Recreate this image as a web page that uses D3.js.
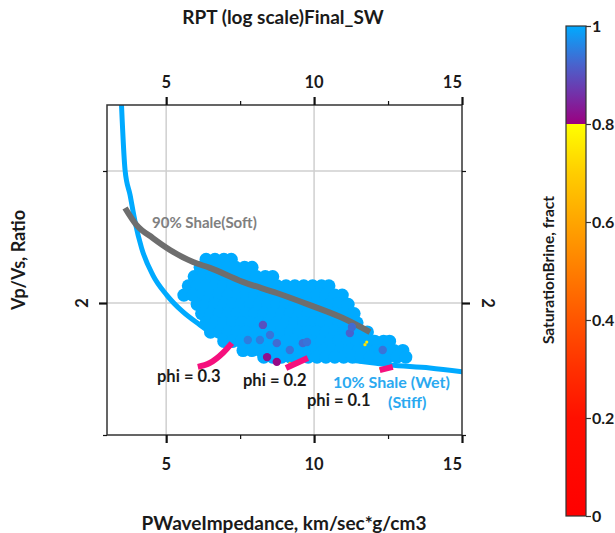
<!DOCTYPE html>
<html>
<head>
<meta charset="utf-8">
<script src="https://cdn.jsdelivr.net/npm/d3@7"></script>
<style>
  body { margin: 0; background: #fff; }
  text { font-family: Lato, "Open Sans", sans-serif; font-weight: bold; }
</style>
</head>
<body>
<svg id="chart" width="615" height="533"></svg>
<script>
// ---- axis ticks ----
const xMajorTicks = [5, 10, 15];
const xMinorTicks = [7.5, 12.5];
const yMajorTicks = [2];
const yMinorTicks = [1.5, 2.5];
const colorbarTicks = [0, 0.2, 0.4, 0.6, 0.8, 1];

// ---- template curves (PWaveImpedance, Vp/Vs) ----
const stiffIp   = [3.49, 3.61, 3.78, 3.95, 4.17, 4.55, 5.02, 5.57, 6.14, 6.48, 7.05, 7.39, 8.51, 9.86, 11.21, 12.56, 13.91, 15.03];
const stiffVpVs = [2.75, 2.504, 2.409, 2.307, 2.208, 2.106, 2.030, 1.966, 1.917, 1.890, 1.862, 1.845, 1.814, 1.795, 1.784, 1.765, 1.754, 1.739];

const softIp   = [3.61, 4.00, 4.55, 5.13, 5.91, 6.48, 7.59, 8.74, 9.86, 10.97, 11.89];
const softVpVs = [2.360, 2.295, 2.246, 2.201, 2.155, 2.133, 2.080, 2.038, 1.992, 1.943, 1.890];

const phi03Ip = [6.07, 6.48, 6.92, 7.22];
const phi03VpVs = [1.758, 1.773, 1.811, 1.848];
const phi02Ip = [9.05, 9.42, 9.79];
const phi02VpVs = [1.754, 1.773, 1.792];
const phi01Ip = [12.22, 12.66];
const phi01VpVs = [1.746, 1.758];

// ---- brine-saturated well samples, listed row by row of Vp/Vs ----
const wetRowVpVs = [2.165, 2.135, 2.1, 2.065, 2.03, 1.995, 1.96, 1.925, 1.89, 1.855, 1.82, 1.795];
const wetRowIp = [
  [6.35, 6.65, 6.95, 7.2],
  [6.15, 6.45, 6.75, 7.05, 7.35, 7.65, 7.9],
  [5.95, 6.25, 6.55, 6.85, 7.15, 7.45, 7.75, 8.05, 8.35, 8.6],
  [5.75, 6.05, 6.35, 6.65, 6.95, 7.25, 7.55, 7.85, 8.15, 8.45, 8.75, 9.05, 9.35, 9.65, 9.95, 10.25, 10.5],
  [5.6, 5.9, 6.2, 6.5, 6.8, 7.1, 7.4, 7.7, 8.0, 8.3, 8.6, 8.9, 9.2, 9.5, 9.8, 10.1, 10.4, 10.7, 10.95],
  [6.05, 6.35, 6.65, 6.95, 7.25, 7.55, 7.85, 8.15, 8.45, 8.75, 9.05, 9.35, 9.65, 9.95, 10.25, 10.55, 10.85, 11.15],
  [6.2, 6.5, 6.8, 7.1, 7.4, 7.7, 8.0, 8.3, 8.6, 8.9, 9.2, 9.5, 9.8, 10.1, 10.4, 10.7, 11.0, 11.35],
  [6.35, 6.65, 6.95, 7.25, 7.55, 7.85, 8.15, 8.45, 8.75, 9.05, 9.35, 9.65, 9.95, 10.25, 10.55, 10.85, 11.15, 11.45],
  [6.5, 6.8, 7.1, 7.4, 7.7, 8.0, 8.3, 8.6, 8.9, 9.2, 9.5, 9.8, 10.1, 10.4, 10.7, 11.0, 11.3, 11.6, 11.8],
  [6.95, 7.25, 7.55, 7.85, 8.15, 8.45, 8.75, 9.05, 9.35, 9.65, 9.95, 10.25, 10.55, 10.85, 11.15, 11.45, 11.75, 12.05, 12.35, 12.55],
  [7.6, 7.9, 8.2, 8.5, 8.8, 9.1, 9.4, 9.7, 10.0, 10.3, 10.6, 10.9, 11.2, 11.5, 11.8, 12.1, 12.4, 12.7, 13.0],
  [8.3, 8.6, 8.9, 9.2, 9.5, 9.8, 10.1, 10.4, 10.7, 11.0, 11.3, 11.6, 11.9, 12.2, 12.5, 12.8, 13.1]
];
const wetSw = 1;

// ---- partially saturated well samples ----
const partIp   = [7.76, 8.17, 8.51, 8.74, 9.18, 9.62, 9.76, 11.21, 11.28, 12.32, 8.27, 8.41, 8.74];
const partVpVs = [1.860, 1.860, 1.879, 1.848, 1.822, 1.848, 1.852, 1.886, 1.909, 1.822, 1.917, 1.795, 1.777];
const partSw   = [0.95, 0.95, 0.94, 0.93, 0.94, 0.93, 0.94, 0.92, 0.93, 0.94, 0.90, 0.82, 0.81];

// sparse low-saturation specks
const speckIp   = [9.18, 11.78, 11.72, 12.25];
const speckVpVs = [1.771, 1.852, 1.842, 1.752];
const speckSw   = [0.65, 0.76, 0.74, 0.68];

// ---- colour ramp for SaturationBrine ----
const swStops  = [0, 0.2, 0.3, 0.4, 0.5, 0.6, 0.7, 0.799, 0.8, 0.86, 0.92, 1];
const swColors = ["#ff0000", "#ff1000", "#ff3000", "#ff5500", "#ff7d00", "#ffa500", "#ffcd00", "#ffff00",
                  "#9b0080", "#7430a8", "#4a62cc", "#00aaff"];

const svg = d3.select("#chart");
const x = d3.scaleLinear().domain([3, 15]).range([107, 462]);
const y = d3.scaleLinear().domain([1.5, 2.75]).range([435, 105]);
const color = d3.scaleLinear().domain(swStops).range(swColors).clamp(true);

const defs = svg.append("defs");
defs.append("clipPath").attr("id", "plotClip")
  .append("rect").attr("x", x(3)).attr("y", y(2.75))
  .attr("width", x(15) - x(3)).attr("height", y(1.5) - y(2.75));

// gridlines
const grid = svg.append("g").attr("stroke", "#cfcfcf").attr("stroke-width", 1.5);
[5, 10].forEach(v => grid.append("line").attr("x1", x(v)).attr("x2", x(v)).attr("y1", y(2.75)).attr("y2", y(1.5)));
[2, 2.5].forEach(v => grid.append("line").attr("y1", y(v)).attr("y2", y(v)).attr("x1", x(3)).attr("x2", x(15)));

const plot = svg.append("g").attr("clip-path", "url(#plotClip)");
const line = d3.line().x(d => x(d[0])).y(d => y(d[1])).curve(d3.curveMonotoneX);

// stiff 10% shale template
plot.append("path").datum(d3.zip(stiffIp, stiffVpVs)).attr("d", line)
  .attr("fill", "none").attr("stroke", "#00aaff").attr("stroke-width", 5);

// brine-saturated samples
const wetPts = [];
wetRowVpVs.forEach((v, i) => wetRowIp[i].forEach(ip => wetPts.push([ip, v, wetSw])));
plot.append("g").selectAll("circle").data(wetPts).join("circle")
  .attr("cx", d => x(d[0])).attr("cy", d => y(d[1])).attr("r", 6.6)
  .attr("fill", d => color(d[2]));

// soft 90% shale template
plot.append("path").datum(d3.zip(softIp, softVpVs)).attr("d", line)
  .attr("fill", "none").attr("stroke", "#6e6e6e").attr("stroke-width", 6);

// partially saturated samples
plot.append("g").selectAll("circle").data(d3.zip(partIp, partVpVs, partSw)).join("circle")
  .attr("cx", d => x(d[0])).attr("cy", d => y(d[1])).attr("r", 4.2)
  .attr("fill", d => color(d[2]));
plot.append("g").selectAll("circle").data(d3.zip(speckIp, speckVpVs, speckSw)).join("circle")
  .attr("cx", d => x(d[0])).attr("cy", d => y(d[1])).attr("r", 1.6)
  .attr("fill", d => color(d[2]));

// porosity segments
[[phi03Ip, phi03VpVs], [phi02Ip, phi02VpVs], [phi01Ip, phi01VpVs]].forEach(([a, b]) => {
  plot.append("path").datum(d3.zip(a, b)).attr("d", line)
    .attr("fill", "none").attr("stroke", "#f5107d").attr("stroke-width", 6);
});

// frame
svg.append("rect").attr("x", x(3)).attr("y", y(2.75)).attr("width", x(15) - x(3)).attr("height", y(1.5) - y(2.75))
  .attr("fill", "none").attr("stroke", "#333").attr("stroke-width", 1.5);

// axes
function styleAxis(g, w) {
  g.select(".domain").remove();
  g.selectAll(".tick line").attr("stroke", "#111").attr("stroke-width", w);
  g.selectAll("text").remove();
}
svg.append("g").attr("transform", `translate(0,${y(2.75)})`)
  .call(d3.axisTop(x).tickValues(xMajorTicks).tickSize(8)).call(g => styleAxis(g, 2.2));
svg.append("g").attr("transform", `translate(0,${y(2.75)})`)
  .call(d3.axisTop(x).tickValues(xMinorTicks).tickSize(4)).call(g => styleAxis(g, 1.2));
svg.append("g").attr("transform", `translate(0,${y(1.5)})`)
  .call(d3.axisBottom(x).tickValues(xMajorTicks).tickSize(8)).call(g => styleAxis(g, 2.2));
svg.append("g").attr("transform", `translate(0,${y(1.5)})`)
  .call(d3.axisBottom(x).tickValues(xMinorTicks).tickSize(4)).call(g => styleAxis(g, 1.2));
svg.append("g").attr("transform", `translate(${x(3)},0)`)
  .call(d3.axisLeft(y).tickValues(yMajorTicks).tickSize(8)).call(g => styleAxis(g, 2.2));
svg.append("g").attr("transform", `translate(${x(3)},0)`)
  .call(d3.axisLeft(y).tickValues(yMinorTicks).tickSize(4)).call(g => styleAxis(g, 1.2));
svg.append("g").attr("transform", `translate(${x(15)},0)`)
  .call(d3.axisRight(y).tickValues(yMajorTicks).tickSize(8)).call(g => styleAxis(g, 2.2));
svg.append("g").attr("transform", `translate(${x(15)},0)`)
  .call(d3.axisRight(y).tickValues(yMinorTicks).tickSize(4)).call(g => styleAxis(g, 1.2));

// tick labels
const tickFont = 16.5;
xMajorTicks.forEach((v, i) => {
  const last = i === xMajorTicks.length - 1;
  [88, 470].forEach(ty => svg.append("text")
    .attr("x", x(v)).attr("y", ty)
    .attr("text-anchor", last ? "end" : "middle")
    .attr("font-size", tickFont).attr("fill", "#1a1a1a").text(String(v)));
});
yMajorTicks.forEach(v => {
  svg.append("text").attr("transform", `translate(88,${y(v)}) rotate(-90)`)
    .attr("text-anchor", "middle").attr("font-size", tickFont).attr("fill", "#1a1a1a").text(String(v));
  svg.append("text").attr("transform", `translate(482,${y(v)}) rotate(90)`)
    .attr("text-anchor", "middle").attr("font-size", tickFont).attr("fill", "#1a1a1a").text(String(v));
});

// titles
svg.append("text").attr("x", 283).attr("y", 24).attr("text-anchor", "middle")
  .attr("font-size", 19).attr("fill", "#1a1a1a").text("RPT (log scale)Final_SW");
svg.append("text").attr("x", 284).attr("y", 530).attr("text-anchor", "middle")
  .attr("font-size", 19).attr("fill", "#1a1a1a").text("PWaveImpedance, km/sec*g/cm3");
svg.append("text").attr("transform", "translate(25,260) rotate(-90)").attr("text-anchor", "middle")
  .attr("font-size", 18).attr("fill", "#1a1a1a").text("Vp/Vs, Ratio");

// curve annotations
svg.append("text").attr("x", 152).attr("y", 228).attr("font-size", 15).attr("font-weight", "normal")
  .attr("fill", "#808080").text("90% Shale(Soft)");
const notes = [
  ["phi = 0.3", 157, 382, "#1a1a1a", 16.5],
  ["phi = 0.2", 243, 386, "#1a1a1a", 16.5],
  ["phi = 0.1", 307, 406, "#1a1a1a", 16.5],
  ["10% Shale (Wet)", 333, 388, "#2aa9f0", 16],
  ["(Stiff)", 388, 408, "#2aa9f0", 16]
];
notes.forEach(([t, tx, ty, c, fs]) => svg.append("text").attr("x", tx).attr("y", ty)
  .attr("font-size", fs).attr("fill", c).text(t));

// colour bar
const cbY = d3.scaleLinear().domain([0, 1]).range([516, 26]);
const grad = defs.append("linearGradient").attr("id", "swGrad")
  .attr("x1", 0).attr("x2", 0).attr("y1", 1).attr("y2", 0);
swStops.forEach((s, i) => grad.append("stop").attr("offset", s).attr("stop-color", swColors[i]));
svg.append("rect").attr("x", 566).attr("y", cbY(1)).attr("width", 20).attr("height", cbY(0) - cbY(1))
  .attr("fill", "url(#swGrad)").attr("stroke", "#333").attr("stroke-width", 1.2);
const cbAxis = svg.append("g").attr("transform", "translate(586,0)")
  .call(d3.axisRight(cbY).tickValues(colorbarTicks).tickSize(5).tickFormat(d3.format("~g")));
cbAxis.select(".domain").remove();
cbAxis.selectAll(".tick line").attr("stroke", "#333").attr("stroke-width", 1.2);
cbAxis.selectAll("text").attr("x", 6).attr("font-size", 16).attr("fill", "#1a1a1a")
  .style("font-family", "Lato, sans-serif").style("font-weight", "bold");
svg.append("text").attr("transform", "translate(554,270) rotate(-90)").attr("text-anchor", "middle")
  .attr("font-size", 15.5).attr("fill", "#1a1a1a").text("SaturationBrine, fract");
</script>
</body>
</html>
